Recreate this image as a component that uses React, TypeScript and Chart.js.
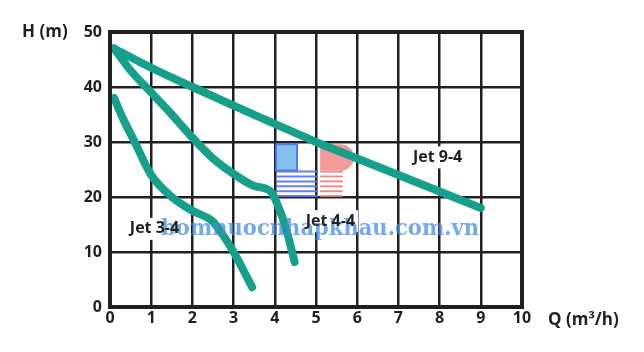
import React, { useEffect, useRef } from "react";
import { Chart, registerables } from "chart.js";
Chart.register(...registerables);

const Q_JET94 = [0.1, 1, 2, 3, 4, 5, 6, 7, 8, 9];
const H_JET94 = [47, 43.5, 40, 36.6, 33.3, 30, 27, 24, 21, 18];
const Q_JET44 = [0.1, 0.5, 1, 1.5, 2, 2.5, 3, 3.5, 3.9, 4.1, 4.3, 4.48];
const H_JET44 = [47, 43, 39, 35, 30.8, 27, 24.2, 22, 21, 18, 13.5, 8.2];
const Q_JET34 = [0.1, 0.3, 0.6, 1, 1.5, 2, 2.5, 2.75, 3, 3.25, 3.45];
const H_JET34 = [38, 34.5, 30, 24, 20, 17.5, 15.5, 13, 10, 6.5, 3.6];

const SERIES_NAMES = ["Jet 9-4", "Jet 4-4", "Jet 3-4"];
const LABEL_POS_Q = [7.95, 5.35, 1.08];
const LABEL_POS_H = [27.2, 15.6, 14.2];

const X_TITLE = "Q (m³/h)";
const Y_TITLE = "H (m)";
const WATERMARK = "bomnuocnhapkhau.com.vn";

const TEAL = "#16a08a";
const INK = "#231f20";
const FONT = "'Open Sans', 'DejaVu Sans', sans-serif";

const pts = (xs: number[], ys: number[]) => xs.map((x, i) => ({ x, y: ys[i] }));

export default function App() {
  const ref = useRef<HTMLCanvasElement>(null);
  useEffect(() => {
    const overlay = {
      id: "overlay",
      beforeDatasetsDraw(chart: any) {
        const { ctx, scales } = chart;
        const { x, y } = scales;
        ctx.save();
        const bx0 = x.getPixelForValue(4.03), bx1 = x.getPixelForValue(5.05);
        const by0 = y.getPixelForValue(29.6), by1 = y.getPixelForValue(19.9);
        const bmid = y.getPixelForValue(24.8);
        ctx.fillStyle = "rgba(120,185,235,0.9)";
        ctx.strokeStyle = "rgba(80,110,240,0.9)";
        ctx.lineWidth = 2;
        const sqw = (bx1 - bx0) * 0.5;
        ctx.fillRect(bx0, by0, sqw, bmid - by0);
        ctx.strokeRect(bx0, by0, sqw, bmid - by0);
        ctx.strokeStyle = "rgba(90,120,240,0.95)";
        for (let i = 0; i < 6; i++) {
          const yy = bmid + 1 + i * ((by1 - bmid) / 5.5);
          ctx.beginPath();
          ctx.moveTo(bx0, yy);
          ctx.lineTo(bx1, yy);
          ctx.stroke();
        }
        const rx0 = x.getPixelForValue(5.1), rx1 = x.getPixelForValue(6.1);
        ctx.fillStyle = "rgba(235,120,120,0.75)";
        ctx.beginPath();
        const rw = rx1 - rx0, rh = bmid - by0;
        ctx.moveTo(rx0, by0);
        ctx.lineTo(rx0 + rw * 0.5, by0);
        ctx.arc(rx0 + rw * 0.5, by0 + rh / 2, rh / 2, -Math.PI / 2, Math.PI / 2);
        ctx.lineTo(rx0, bmid);
        ctx.closePath();
        ctx.fill();
        ctx.strokeStyle = "rgba(235,120,120,0.85)";
        for (let i = 0; i < 6; i++) {
          const yy = bmid + 1 + i * ((by1 - bmid) / 5.5);
          ctx.beginPath();
          ctx.moveTo(rx0, yy);
          ctx.lineTo(rx0 + rw * 0.55, yy);
          ctx.stroke();
        }
        ctx.restore();
        ctx.save();
        ctx.font = `bold 16px ${FONT}`;
        SERIES_NAMES.forEach((n, i) => {
          const px = x.getPixelForValue(LABEL_POS_Q[i]);
          const py = y.getPixelForValue(LABEL_POS_H[i]);
          const w = ctx.measureText(n).width;
          ctx.fillStyle = "#fff";
          ctx.fillRect(px - w / 2 - 3, py - 11, w + 6, 22);
        });
        ctx.restore();
      },
      afterDatasetsDraw(chart: any) {
        const { ctx, scales, chartArea } = chart;
        const { x, y } = scales;
        ctx.save();
        ctx.strokeStyle = INK;
        ctx.lineWidth = 4;
        ctx.strokeRect(chartArea.left, chartArea.top, chartArea.right - chartArea.left, chartArea.bottom - chartArea.top);
        ctx.font = `bold 23px 'DejaVu Serif', serif`;
        const tw = ctx.measureText(WATERMARK).width;
        const cx = x.getPixelForValue(5.1);
        const cy = y.getPixelForValue(14.2);
        ctx.translate(cx, cy);
        ctx.scale(318 / tw, 1);
        ctx.fillStyle = "rgba(70,140,225,0.75)";
        ctx.textAlign = "center";
        ctx.textBaseline = "middle";
        ctx.fillText(WATERMARK, 0, 0);
        ctx.restore();
        ctx.save();
        ctx.font = `bold 16px ${FONT}`;
        ctx.fillStyle = INK;
        ctx.textAlign = "center";
        ctx.textBaseline = "middle";
        SERIES_NAMES.forEach((n, i) => {
          ctx.fillText(n, x.getPixelForValue(LABEL_POS_Q[i]), y.getPixelForValue(LABEL_POS_H[i]));
        });
        ctx.font = `bold 17px ${FONT}`;
        ctx.textAlign = "left";
        ctx.fillText(Y_TITLE, 22, y.getPixelForValue(50));
        ctx.fillText(X_TITLE, chartArea.right + 26, y.getPixelForValue(0) + 13);
        ctx.restore();
      },
    };

    const mk = (label: string, data: any) => ({
      label,
      data,
      borderColor: TEAL,
      borderWidth: 8,
      pointRadius: 0,
      tension: 0.35,
      cubicInterpolationMode: "monotone" as const,
      borderCapStyle: "round" as const,
      borderJoinStyle: "round" as const,
      fill: false,
    });

    const chart = new Chart(ref.current!, {
      type: "line",
      data: {
        datasets: [
          mk(SERIES_NAMES[0], pts(Q_JET94, H_JET94)),
          mk(SERIES_NAMES[1], pts(Q_JET44, H_JET44)),
          mk(SERIES_NAMES[2], pts(Q_JET34, H_JET34)),
        ],
      },
      options: {
        animation: false,
        responsive: false,
        layout: { padding: { top: 32, right: 122, left: 0, bottom: 0 } },
        plugins: { legend: { display: false }, tooltip: { enabled: false } },
        scales: {
          x: {
            type: "linear",
            min: 0,
            max: 10,
            ticks: { stepSize: 1, color: INK, font: { family: FONT, size: 16, weight: "bold" }, padding: 2, maxRotation: 0 },
            grid: { color: INK, lineWidth: 2.5, drawTicks: false },
            border: { display: false },
            afterFit: (s: any) => { s.height = 45; },
          },
          y: {
            type: "linear",
            min: 0,
            max: 50,
            ticks: { stepSize: 10, color: INK, font: { family: FONT, size: 16, weight: "bold" }, padding: 8 },
            grid: { color: INK, lineWidth: 2.5, drawTicks: false },
            border: { display: false },
            afterFit: (s: any) => { s.width = 110; },
          },
        },
      },
      plugins: [overlay],
    });
    return () => chart.destroy();
  }, []);
  return (
    <div style={{ position: "absolute", left: 0, top: 0, width: 644, height: 352, background: "#fff" }}>
      <canvas ref={ref} width={644} height={352} />
    </div>
  );
}
